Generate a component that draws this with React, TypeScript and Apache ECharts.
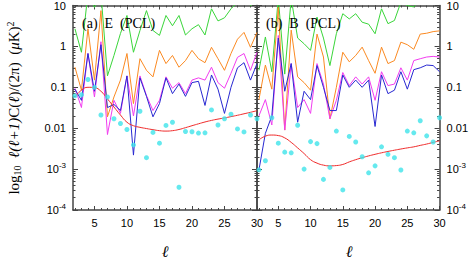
import React, { useEffect, useRef } from "react";
import * as echarts from "echarts";

const ells = [2, 3, 4, 5, 6, 7, 8, 9, 10, 11, 12, 13, 14, 15, 16, 17, 18, 19, 20, 21, 22, 23, 24, 25, 26, 27, 28, 29, 30];
const xTickLabels = [5, 10, 15, 20, 25, 30];
const yTickValues = [0.0001, 0.001, 0.01, 0.1, 1, 10];

// Panel (a) E (PCL)
const eGreen = [2.7, 0.72, 20, 9, 20, 0.19, 0.6, 2.07, 5.7, 0.72, 2.45, 7.5, 2.45, 1.86, 5.7, 3.2, 5.7, 1.9, 2.7, 3.4, 1.9, 8.3, 4.2, 5, 8.3, 12, 14, 10, 12];
const eOrange = [0.31, 0.085, 2.7, 0.15, 7.5, 0.019, 0.058, 0.15, 0.67, 0.04, 0.5, 0.26, 0.18, 0.8, 0.38, 0.6, 0.31, 0.45, 0.8, 0.5, 0.4, 0.95, 0.5, 0.26, 0.67, 1.5, 2.2, 0.95, 2.2];
const eMagenta = [0.095, 0.032, 0.67, 0.058, 1.3, 0.007, 0.048, 0.023, 0.19, 0.02, 0.19, 0.063, 0.027, 0.048, 0.18, 0.095, 0.13, 0.07, 0.15, 0.17, 0.15, 0.31, 0.13, 0.095, 0.22, 0.54, 0.67, 0.26, 0.72];
const eBlue = [0.09, 0.048, 0.67, 0.08, 1.1, 0.032, 0.038, 0.027, 0.19, 0.0022, 0.17, 0.06, 0.019, 0.04, 0.17, 0.07, 0.12, 0.06, 0.13, 0.14, 0.036, 0.2, 0.09, 0.023, 0.1, 0.3, 0.4, 0.15, 0.38];
const eRed = [0.058, 0.085, 0.1, 0.098, 0.08, 0.052, 0.033, 0.021, 0.014, 0.0115, 0.0105, 0.0098, 0.0092, 0.0087, 0.0085, 0.0087, 0.0093, 0.0103, 0.0115, 0.0128, 0.0142, 0.0155, 0.0167, 0.0178, 0.0192, 0.0207, 0.0225, 0.0245, 0.0268];
const eCyan = [0.062, 0.066, 0.155, 0.1, 0.021, 0.058, 0.017, 0.013, 0.0093, 0.0039, 0.026, 0.0019, 0.0079, 0.0043, 0.0117, 0.014, 0.00036, 0.0083, 0.0082, 0.0076, 0.0077, 0.028, 0.012, 0.017, 0.022, 0.0096, 0.0081, 0.021, 0.017];

// Panel (b) B (PCL)
const bGreen = [0.26, 1.7, 0.24, 15, 0.21, 15, 1.6, 1.16, 0.8, 5.2, 1.6, 0.34, 2.04, 6.3, 4.7, 6.3, 3.9, 3.5, 2.04, 8.3, 3.6, 4.3, 12, 10, 9.2, 15, 15, 15, 15];
const bOrange = [0.05, 0.35, 0.09, 9, 0.009, 2.5, 0.18, 0.13, 0.085, 2, 0.55, 0.017, 0.1, 0.72, 0.42, 0.6, 0.96, 0.45, 0.22, 0.96, 0.38, 0.45, 1.27, 1.1, 0.85, 2, 2.1, 2.3, 2.4];
const bMagenta = [0.02, 0.05, 0.012, 1.85, 0.009, 0.38, 0.032, 0.05, 0.023, 0.38, 0.12, 0.017, 0.048, 0.23, 0.11, 0.18, 0.12, 0.18, 0.048, 0.24, 0.11, 0.12, 0.3, 0.15, 0.45, 0.5, 0.55, 0.57, 0.55];
const bBlue = [0.00095, 0.0075, 0.02, 1.6, 0.08, 0.38, 0.014, 0.08, 0.05, 0.34, 0.1, 0.027, 0.027, 0.2, 0.1, 0.15, 0.1, 0.15, 0.011, 0.2, 0.07, 0.085, 0.24, 0.09, 0.27, 0.3, 0.35, 0.34, 0.24];
const bRed = [0.0052, 0.0064, 0.0068, 0.0066, 0.0058, 0.0045, 0.0033, 0.0024, 0.0017, 0.0014, 0.00125, 0.0012, 0.00122, 0.0013, 0.0015, 0.0017, 0.0019, 0.0021, 0.0023, 0.0025, 0.0027, 0.0029, 0.0031, 0.0033, 0.0035, 0.0038, 0.0041, 0.0045, 0.0049];
const bCyan = [0.00096, 0.0016, 0.018, 0.0043, 0.0026, 0.0025, 0.0118, 0.001, 0.0047, 0.0042, 0.00056, 0.0011, 0.0085, 0.00031, 0.0063, 0.0046, 0.002, 0.00081, 0.0012, 0.0035, 0.0023, 0.0019, 0.00095, 0.0085, 0.0077, 0.0152, 0.0065, 0.0046, 0.018];

const COLORS = { green: "#3ad53a", orange: "#fb8a22", magenta: "#f23cf0", blue: "#2828d2", red: "#f02a2a", cyan: "#3ee4ea" };
const AXIS = "#444";

function minorLogValues() {
  const out: number[] = [];
  for (let e = -4; e < 1; e++) {
    for (let m = 2; m <= 9; m++) out.push(m * Math.pow(10, e));
  }
  return out;
}

function yLabel(v: number) {
  const e = Math.round(Math.log10(v));
  if (e === 1) return "10";
  if (e === 0) return "1";
  if (e === -1) return "0.1";
  if (e === -2) return "0.01";
  return "10{sup|" + e + "}";
}

const labelRich = { sup: { fontSize: 8, fontFamily: "Liberation Sans", padding: [0, 0, 7, 0] } };

function makeAxesForGrid(g: number, labelSide: "left" | "right") {
  const xs: any[] = [];
  const ys: any[] = [];
  const baseX = { type: "value", gridIndex: g, min: 1.7, max: 30, splitLine: { show: false } };
  xs.push({
    ...baseX,
    position: "bottom",
    axisLine: { show: true, lineStyle: { color: AXIS, width: 1.5 } },
    axisTick: { show: true, inside: true, length: 4, customValues: xTickLabels, lineStyle: { color: AXIS, width: 1 } },
    axisLabel: { show: true, customValues: xTickLabels, margin: 7, color: "#000", fontSize: 11, fontFamily: "Liberation Sans" },
  });
  xs.push({
    ...baseX,
    position: "bottom",
    axisLine: { show: false },
    axisTick: { show: true, inside: true, length: 2, customValues: ells, lineStyle: { color: AXIS, width: 1 } },
    axisLabel: { show: false },
  });
  xs.push({
    ...baseX,
    position: "top",
    axisLine: { show: true, lineStyle: { color: AXIS, width: 1.5 } },
    axisTick: { show: true, inside: true, length: 4, customValues: xTickLabels, lineStyle: { color: AXIS, width: 1 } },
    axisLabel: { show: false },
  });
  xs.push({
    ...baseX,
    position: "top",
    axisLine: { show: false },
    axisTick: { show: true, inside: true, length: 2, customValues: ells, lineStyle: { color: AXIS, width: 1 } },
    axisLabel: { show: false },
  });
  const baseY = { type: "log", gridIndex: g, min: 0.0001, max: 10, logBase: 10, splitLine: { show: false } };
  (["left", "right"] as const).forEach((side) => {
    ys.push({
      ...baseY,
      position: side,
      axisLine: { show: true, lineStyle: { color: AXIS, width: 1.5 } },
      axisTick: { show: true, inside: true, length: 5, customValues: yTickValues, lineStyle: { color: AXIS, width: 1 } },
      axisLabel: {
        show: side === labelSide,
        customValues: yTickValues,
        margin: 7,
        color: "#000",
        fontSize: 11,
        fontFamily: "Liberation Sans",
        formatter: yLabel,
        rich: labelRich,
      },
    });
    ys.push({
      ...baseY,
      position: side,
      axisLine: { show: false },
      axisTick: { show: true, inside: true, length: 2.5, customValues: minorLogValues(), lineStyle: { color: AXIS, width: 1 } },
      axisLabel: { show: false },
    });
  });
  return { xs, ys };
}

function pairs(vals: number[]) {
  return ells.map((l, i) => [l, vals[i]]);
}

function panelSeries(xi: number, yi: number, green: number[], orange: number[], magenta: number[], blue: number[], red: number[], cyan: number[]) {
  const line = (name: string, data: number[], color: string, smooth = false) => ({
    type: "line",
    name,
    xAxisIndex: xi,
    yAxisIndex: yi,
    data: pairs(data),
    showSymbol: false,
    symbol: "none",
    smooth,
    clip: true,
    lineStyle: { color, width: 1 },
    z: 3,
  });
  return [
    line("green", green, COLORS.green),
    line("orange", orange, COLORS.orange),
    line("magenta", magenta, COLORS.magenta),
    line("blue", blue, COLORS.blue),
    line("red", red, COLORS.red, true),
    {
      type: "scatter",
      name: "cyan",
      xAxisIndex: xi,
      yAxisIndex: yi,
      data: pairs(cyan),
      symbol: "circle",
      symbolSize: 5,
      itemStyle: { color: COLORS.cyan },
      z: 4,
    },
  ];
}

export default function App() {
  const ref = useRef<HTMLDivElement>(null);
  useEffect(() => {
    if (!ref.current) return;
    const chart = echarts.init(ref.current, null, { renderer: "svg" });
    const a = makeAxesForGrid(0, "left");
    const b = makeAxesForGrid(1, "right");
    const option: any = {
      animation: false,
      backgroundColor: "#fff",
      grid: [
        { left: 73, top: 5, width: 184, height: 205 },
        { left: 257, top: 5, width: 183, height: 205 },
      ],
      xAxis: [...a.xs, ...b.xs],
      yAxis: [...a.ys, ...b.ys],
      series: [
        ...panelSeries(0, 0, eGreen, eOrange, eMagenta, eBlue, eRed, eCyan),
        ...panelSeries(4, 4, bGreen, bOrange, bMagenta, bBlue, bRed, bCyan),
      ],
      graphic: [
        {
          type: "text",
          x: 82,
          y: 23,
          z: 10,
          style: { text: "(a)  E  (PCL)", font: "14px 'Liberation Serif'", fill: "#000", align: "left", verticalAlign: "middle" },
        },
        {
          type: "text",
          x: 266,
          y: 23,
          z: 10,
          style: { text: "(b)  B  (PCL)", font: "14px 'Liberation Serif'", fill: "#000", align: "left", verticalAlign: "middle" },
        },
        {
          type: "text",
          x: 165,
          y: 251,
          style: { text: "ℓ", font: "italic 16px 'DejaVu Serif'", fill: "#000", align: "center", verticalAlign: "middle" },
        },
        {
          type: "text",
          x: 349,
          y: 251,
          style: { text: "ℓ", font: "italic 16px 'DejaVu Serif'", fill: "#000", align: "center", verticalAlign: "middle" },
        },
        {
          type: "text",
          x: 14,
          y: 108,
          rotation: Math.PI / 2,
          style: {
            text: "log{sub|10}  {i|ℓ(ℓ+1)}C({i|ℓ})/(2π)  ({i|μ}K){sup|2}",
            font: "15px 'Liberation Serif'",
            fill: "#000",
            align: "center",
            verticalAlign: "middle",
            rich: {
              sub: { fontSize: 10, fontFamily: "Liberation Serif", padding: [7, 0, 0, 0] },
              sup: { fontSize: 10, fontFamily: "Liberation Serif", padding: [0, 0, 8, 0] },
              i: { fontSize: 15, fontFamily: "Liberation Serif", fontStyle: "italic" },
            },
          },
        },
      ],
    };
    chart.setOption(option);
    return () => chart.dispose();
  }, []);
  return <div ref={ref} style={{ position: "absolute", left: 0, top: 0, width: 471, height: 259 }} />;
}
